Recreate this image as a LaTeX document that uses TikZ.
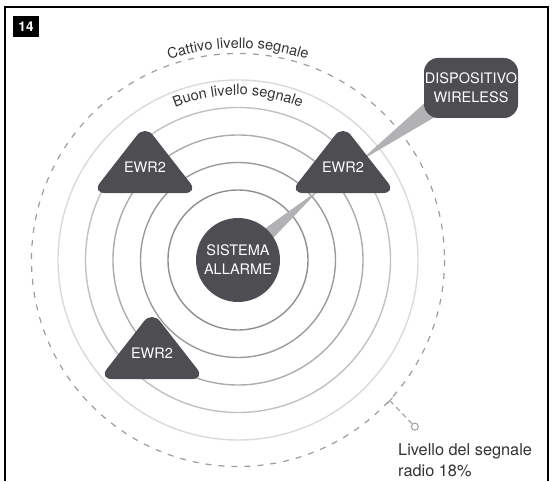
\documentclass[tikz,border=0pt]{standalone}
\usepackage{fontspec}
\setmainfont{TeX Gyre Heros}
\usetikzlibrary{decorations.text}
\definecolor{darkshape}{RGB}{77,77,82}
\definecolor{tailgray}{RGB}{178,178,181}
\definecolor{txtgray}{RGB}{51,51,51}
\definecolor{dashgray}{RGB}{157,157,160}
\newcommand\ringfont{\fontsize{14.5}{19}\selectfont}

\begin{document}
\begin{tikzpicture}[x=1pt,y=-1pt,
    darkfill/.style={fill=darkshape,text=white,font=\ringfont,align=center},
    tail/.style={fill=tailgray},
    ring/.style={line width=1.4pt},
    arclabel/.style={decorate,decoration={text along path,text align=center,
      text={|\ringfont\color{txtgray}|#1}}}]
  \useasboundingbox (0,0) rectangle (553,481);
  \draw[line width=1.2pt] (5,481) -- (5,7) -- (548,7) -- (548,481);
  \node[fill=black,text=white,font=\fontsize{13.5}{13.5}\selectfont\bfseries,
    minimum width=26pt,minimum height=21pt,inner sep=0] (fig) at (26,26.5) {14};

  \coordinate (c) at (238,260);
  \foreach \r/\g in {70/143,97.5/156,125/172,152.5/193,180/218} {
    \draw[ring,color={rgb,255:red,\g;green,\g;blue,\g}] (c) circle[radius=\r];
  }
  \draw[line width=1.2pt,dashgray,dash pattern=on 6pt off 7pt] (c) circle[radius=206.5];
  \path[arclabel={Cattivo livello segnale}] ([shift={(-130:212)}]c) arc[start angle=-130,end angle=-50,radius=212];
  \path[arclabel={Buon livello segnale}] ([shift={(-135:165)}]c) arc[start angle=-135,end angle=-45,radius=165];

  \fill[tail] (256,235) -- (320,189) -- (265.5,246) -- cycle;
  \fill[tail] (428,100) -- (360,161) -- (440,114) -- cycle;

  \node[darkfill,circle,minimum size=84pt,inner sep=0] (sys) at (c) {SISTEMA\\ALLARME};
  \node[darkfill,rounded corners=14pt,minimum width=94pt,minimum height=60pt,inner sep=0] (wl) at (471,88) {DISPOSITIVO\\WIRELESS};
  \foreach \cx/\by/\k in {145/193/a,343/193/b,152/379/c} {
    \fill[darkshape,rounded corners=13pt] (\cx-53,\by) -- (\cx,\by-68) -- (\cx+53,\by) -- cycle;
    \node[darkfill,inner sep=0] (ewr\k) at (\cx,\by-26) {EWR2};
  }

  \coordinate (tick) at ([shift={(42.8:207)}]c);
  \draw[dashgray,line width=1pt] ([shift={(41.7:207)}]c) -- ([shift={(43.9:207)}]c);
  \node[circle,draw=dashgray,line width=1pt,minimum size=7pt,inner sep=0] (pin) at ([shift={(43.3:243)}]c) {};
  \draw[dashgray,line width=1pt,dash pattern=on 5pt off 4pt] (tick) -- (pin);
  \node[anchor=north west,align=left,inner sep=0,text=txtgray,font=\fontsize{16.3}{21}\selectfont] (lvl) at (398,443) {Livello del segnale\\radio 18\%};
\end{tikzpicture}
\end{document}
